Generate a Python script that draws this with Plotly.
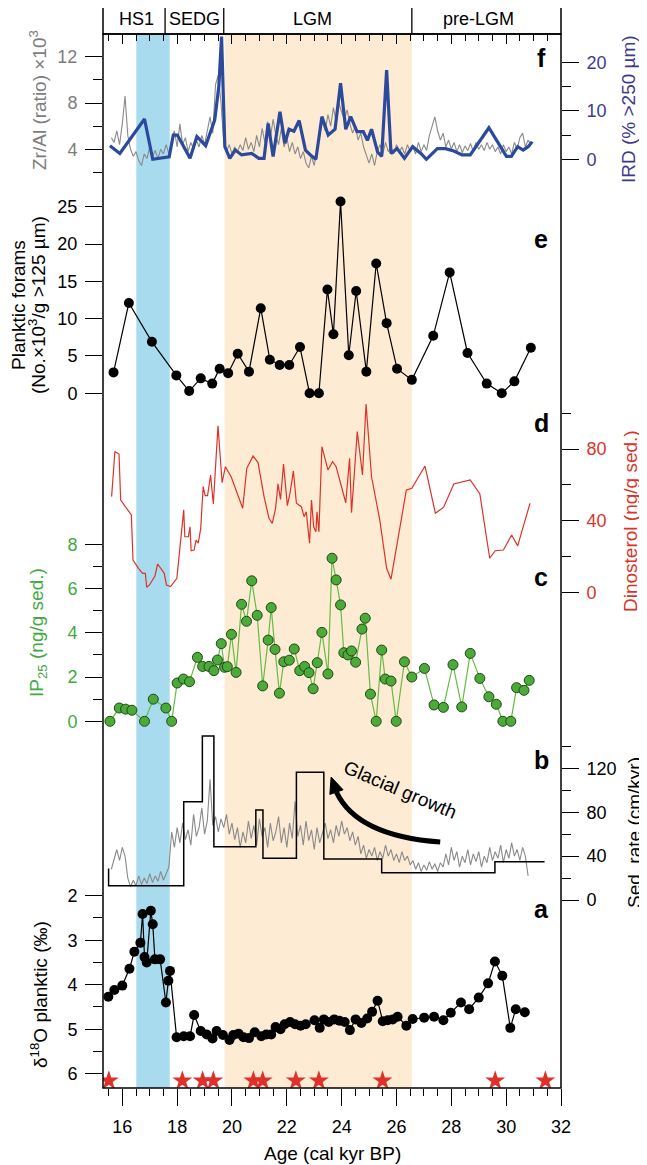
import plotly.graph_objects as go

FONT = "Liberation Sans, Arial, Helvetica, sans-serif"

# ---------------- data ----------------
# panel f : IRD (% > 250 um)
ird_age = [15.55, 15.91, 16.81, 17.11, 17.71, 17.86, 18.01, 18.47, 18.72, 19.04, 19.37, 19.52, 19.62, 19.74, 19.92,
           20.12, 20.35, 20.72, 20.98, 21.17, 21.32, 21.50, 21.75, 21.93, 22.08, 22.26, 22.45, 22.68, 22.86, 23.06,
           23.28, 23.51, 23.76, 23.96, 24.15, 24.33, 24.56, 24.79, 24.94, 25.09, 25.31, 25.46, 25.64, 25.80, 26.02,
           26.29, 26.59, 26.89, 27.09, 27.49, 27.79, 28.09, 28.39, 28.69, 29.37, 29.79, 30.01, 30.19, 30.42, 30.62,
           30.80, 30.95]
ird_val = [2.8, 1.2, 8.3, 0.0, 0.5, 5.0, 5.0, 0.2, 4.7, 2.8, 8.1, 15.0, 25.3, 2.6, 0.2,
           1.9, 0.9, 1.2, 0.2, 0.2, 7.4, 0.6, 9.8, 3.3, 6.2, 5.8, 8.0, 1.9, 0.9, 0.0,
           8.8, 5.0, 6.2, 15.7, 6.2, 8.8, 5.7, 5.7, 3.9, 6.2, 1.5, 0.6, 18.4, 1.2, 2.2,
           0.2, 2.6, 1.2, 0.0, 2.2, 2.2, 1.7, 0.9, 0.9, 6.5, 2.6, 0.6, 0.6, 2.6, 1.9,
           2.6, 3.6]

# high-resolution ages shared by the Zr/Al record (f) and the grey record of panel b
hr_age = [15.6, 15.7, 15.8, 15.9,
          16.0, 16.1, 16.2, 16.3, 16.4, 16.5, 16.6, 16.7, 16.8, 16.9,
          17.0, 17.1, 17.2, 17.3, 17.4, 17.5, 17.6, 17.7, 17.8, 17.9,
          18.0, 18.1, 18.2, 18.3, 18.4, 18.5, 18.6, 18.7, 18.8, 18.9,
          19.0, 19.1, 19.2, 19.3, 19.4, 19.5, 19.6, 19.7, 19.8, 19.9,
          20.0, 20.1, 20.2, 20.3, 20.4, 20.5, 20.6, 20.7, 20.8, 20.9,
          21.0, 21.1, 21.2, 21.3, 21.4, 21.5, 21.6, 21.7, 21.8, 21.9,
          22.0, 22.1, 22.2, 22.3, 22.4, 22.5, 22.6, 22.7, 22.8, 22.9,
          23.0, 23.1, 23.2, 23.3, 23.4, 23.5, 23.6, 23.7, 23.8, 23.9,
          24.0, 24.1, 24.2, 24.3, 24.4, 24.5, 24.6, 24.7, 24.8, 24.9,
          25.0, 25.1, 25.2, 25.3, 25.4, 25.5, 25.6, 25.7, 25.8, 25.9,
          26.0, 26.1, 26.2, 26.3, 26.4, 26.5, 26.6, 26.7, 26.8, 26.9,
          27.0, 27.1, 27.2, 27.3, 27.4, 27.5, 27.6, 27.7, 27.8, 27.9,
          28.0, 28.1, 28.2, 28.3, 28.4, 28.5, 28.6, 28.7, 28.8, 28.9,
          29.0, 29.1, 29.2, 29.3, 29.4, 29.5, 29.6, 29.7, 29.8, 29.9,
          30.0, 30.1, 30.2, 30.3, 30.4, 30.5, 30.6, 30.7, 30.8, 30.9]

zr_al = [5.0, 4.6, 5.6, 4.4,
         6.2, 8.6, 5.2, 4.0, 3.4, 3.8, 3.0, 2.6, 3.6, 3.2,
         4.2, 3.4, 3.9, 3.2, 4.0, 3.6, 4.4, 3.6, 4.8, 5.6,
         4.2, 6.2, 4.4, 5.0, 3.8, 4.6, 4.0, 4.8, 4.2, 5.2,
         4.4, 5.6, 6.8, 5.4, 9.6, 10.4, 8.0, 4.6, 3.8, 4.4,
         3.6, 4.2, 3.8, 4.4, 3.9, 5.0, 4.0, 4.6, 3.8, 5.2,
         4.2, 5.8, 4.6, 6.4, 5.0, 6.6, 5.2, 4.4, 5.8, 4.2,
         5.0, 3.8, 4.6, 3.6, 4.2, 3.2, 3.8, 2.8, 2.4, 3.4,
         2.6, 4.0, 5.2, 6.4, 5.6, 7.0, 6.0, 7.6, 6.4, 8.0,
         7.2, 6.6, 7.4, 6.2, 5.4, 6.0, 4.8, 5.4, 4.2, 3.4,
         2.8, 3.6, 2.6, 3.8, 4.4, 3.6, 4.6, 3.8, 4.2, 3.6,
         4.4, 3.8, 4.2, 3.6, 4.4, 3.8, 4.2, 3.6, 4.6, 3.8,
         4.4, 3.9, 5.2, 6.0, 6.8, 5.6, 4.8, 5.4, 4.2, 4.8,
         4.0, 4.6, 3.8, 4.4, 3.7, 4.3, 3.9, 4.5, 3.8, 4.6,
         4.0, 4.4, 3.9, 4.6, 4.0, 4.4, 3.8, 4.2, 3.6, 4.4,
         3.8, 4.2, 3.6, 4.6, 4.0, 5.0, 5.4, 4.2, 4.8, 4.4]

grey_b = [28, 38, 46, 36,
          48, 40, 20, 12, 18, 13, 22, 14, 20, 15,
          24, 16, 22, 17, 26, 18, 24, 30, 62, 48,
          66, 52, 70, 55, 64, 50, 78, 58, 66, 84,
          60, 72, 110, 68, 76, 62, 74, 66, 78, 60,
          70, 55, 66, 48, 62, 52, 72, 56, 68, 50,
          74, 58, 66, 48, 70, 54, 62, 76, 52, 66,
          48, 70, 56, 90, 58, 68, 50, 72, 54, 64,
          46, 66, 52, 60, 70, 56, 64, 52, 68, 58,
          72, 60, 66, 54, 62, 50, 58, 42, 50, 38,
          46, 40, 48, 36, 44, 38, 50, 40, 46, 36,
          42, 34, 44, 36, 40, 32, 36, 28, 34, 26,
          32, 27, 35, 28, 33, 26, 34, 30, 42, 32,
          48, 36, 44, 30, 40, 34, 46, 32, 42, 35,
          44, 30, 40, 34, 48, 36, 44, 38, 50, 34,
          46, 38, 52, 40, 46, 36, 48, 40, 22, None]

# panel e : planktic forams
foram_age = [15.68, 16.24, 17.08, 17.97, 18.44, 18.86, 19.28, 19.55, 19.86, 20.21, 20.62, 21.05, 21.38, 21.74,
             22.09, 22.48, 22.83, 23.17, 23.48, 23.70, 23.96, 24.26, 24.53, 24.90, 25.26, 25.64, 26.02, 26.56,
             27.34, 27.94, 28.59, 29.29, 29.84, 30.30, 30.90]
foram_val = [2.8, 12.1, 6.9, 2.4, 0.3, 2.0, 1.3, 3.3, 2.7, 5.3, 2.9, 11.4, 4.5, 3.8,
             3.8, 6.2, 0.0, 0.0, 13.9, 7.9, 25.7, 5.1, 13.7, 2.9, 17.4, 9.4, 3.3, 1.8,
             7.7, 16.2, 5.4, 1.3, 0.0, 1.6, 6.1]

# panel d : dinosterol
dino_age = [15.61, 15.73, 15.88, 15.94, 16.33, 16.39, 16.59, 16.74, 16.84, 16.89, 16.99, 17.19, 17.29, 17.53,
            17.61, 17.76, 17.99, 18.24, 18.28, 18.41, 18.47, 18.51, 18.62, 18.69, 18.77, 18.86, 18.95, 19.02,
            19.11, 19.22, 19.32, 19.49, 19.64, 19.76, 19.97, 20.27, 20.39, 20.54, 20.77, 20.95, 21.17, 21.35,
            21.47, 21.59, 21.68, 21.77, 21.88, 22.02, 22.12, 22.24, 22.35, 22.53, 22.63, 22.71, 22.83, 22.90,
            22.98, 23.06, 23.10, 23.17, 23.28, 23.50, 23.67, 23.80, 23.96, 24.15, 24.29, 24.36, 24.57, 24.76,
            24.89, 25.09, 25.39, 25.64, 25.80, 26.36, 26.56, 27.04, 27.42, 27.72, 28.09, 28.69, 29.04, 29.40,
            29.60, 29.90, 30.20, 30.42, 30.87]
dino_val = [53.4, 78.5, 77.2, 51.5, 43.2, 18.0, 13.4, 10.6, 10.6, 2.8, 4.1, 9.1, 15.8, 10.6,
            4.1, 3.2, 7.8, 46.0, 31.0, 31.0, 36.6, 23.2, 23.6, 29.2, 27.4, 35.7, 59.0, 54.0,
            54.0, 65.5, 49.3, 92.9, 61.2, 70.1, 64.5, 51.5, 46.9, 69.2, 76.1, 72.4, 53.4, 41.3,
            38.5, 46.9, 60.5, 51.9, 71.6, 48.4, 55.6, 67.7, 49.7, 47.8, 42.2, 45.0, 27.4, 51.5,
            36.6, 33.8, 45.0, 33.8, 81.3, 68.3, 72.9, 70.1, 60.9, 50.0, 74.8, 44.4, 89.7, 65.5,
            105.1, 64.5, 40.4, 13.4, 7.3, 57.1, 58.1, 70.5, 44.1, 47.5, 60.5, 62.7, 54.9, 19.0,
            23.2, 23.6, 32.0, 25.9, 49.7]

# panel c : IP25
ip_age = [15.55, 15.89, 16.12, 16.35, 16.81, 17.13, 17.59, 17.80, 18.00, 18.23, 18.45, 18.74, 18.93, 19.16,
          19.34, 19.47, 19.61, 19.73, 19.83, 19.98, 20.15, 20.35, 20.53, 20.72, 20.92, 21.12, 21.32, 21.43,
          21.57, 21.73, 21.89, 22.09, 22.27, 22.47, 22.65, 22.81, 22.96, 23.11, 23.28, 23.50, 23.65, 23.80,
          23.96, 24.08, 24.23, 24.36, 24.51, 24.74, 24.86, 25.05, 25.26, 25.46, 25.59, 25.80, 25.99, 26.29,
          26.56, 27.02, 27.37, 27.71, 28.06, 28.38, 28.69, 29.04, 29.37, 29.64, 29.88, 30.17, 30.38, 30.65,
          30.84]
ip_val = [0.0, 0.6, 0.55, 0.5, 0.0, 1.0, 0.6, 0.0, 1.73, 1.91, 1.79, 2.89, 2.48, 2.48,
          2.29, 2.77, 3.51, 2.44, 2.47, 3.93, 2.21, 5.29, 4.52, 6.35, 4.79, 1.6, 3.67, 5.14,
          3.25, 1.27, 2.69, 2.76, 3.27, 2.29, 2.48, 2.2, 1.47, 2.65, 4.02, 2.14, 7.37, 6.39,
          5.26, 3.1, 3.0, 3.18, 2.67, 4.17, 4.66, 1.23, 0.0, 3.22, 1.91, 1.82, 0.0, 2.69,
          2.0, 2.39, 0.74, 0.63, 2.56, 0.65, 3.07, 1.94, 1.11, 0.77, 0.0, 0.0, 1.52, 1.4,
          1.85]

# panel b : sedimentation rate (step)
sr_age = [15.50, 15.50, 18.24, 18.92, 19.34, 20.87, 21.13, 22.35, 23.35, 25.46, 29.59, 31.40]
sr_val = [28.8, 13.0, 89.6, 149.4, 48.6, 82.0, 38.0, 116.3, 37.4, 24.9, 34.9, 34.9]

# panel a : d18O planktic
d18_age = [15.49, 15.71, 16.00, 16.26, 16.44, 16.66, 16.74, 16.81, 16.89, 17.04, 17.11, 17.19, 17.38, 17.59,
           17.68, 17.74, 17.98, 18.24, 18.47, 18.62, 18.86, 19.08, 19.29, 19.44, 19.67, 19.91, 20.05, 20.24,
           20.42, 20.62, 20.83, 21.07, 21.25, 21.43, 21.59, 21.77, 21.92, 22.12, 22.30, 22.50, 22.69, 23.01,
           23.20, 23.35, 23.53, 23.73, 23.92, 24.11, 24.30, 24.51, 24.72, 24.93, 25.11, 25.31, 25.50, 25.68,
           25.86, 26.04, 26.36, 26.59, 27.01, 27.37, 27.71, 27.98, 28.35, 28.65, 29.00, 29.34, 29.59, 29.86,
           30.15, 30.35, 30.68]
d18_val = [4.27, 4.12, 4.02, 3.64, 3.26, 3.06, 2.41, 3.38, 3.50, 2.34, 2.64, 3.43, 3.43, 4.40,
           3.91, 3.69, 5.18, 5.16, 5.16, 4.68, 5.04, 5.12, 5.21, 5.04, 5.13, 5.24, 5.13, 5.10,
           5.18, 5.20, 5.07, 5.16, 5.12, 5.12, 4.95, 5.00, 4.89, 4.84, 4.89, 4.92, 4.89, 4.80,
           4.97, 4.78, 4.84, 4.78, 4.81, 4.84, 5.02, 4.78, 4.86, 4.76, 4.61, 4.36, 4.82, 4.80,
           4.78, 4.72, 4.92, 4.77, 4.74, 4.72, 4.80, 4.63, 4.40, 4.55, 4.29, 3.97, 3.48, 3.80,
           4.97, 4.55, 4.62]

# radiocarbon dates (stars)
star_age = [15.51, 18.19, 18.93, 19.32, 20.78, 21.12, 22.33, 23.17, 25.49, 29.60, 31.43]
star_val = [6.16, 6.16, 6.16, 6.16, 6.16, 6.16, 6.16, 6.16, 6.16, 6.16, 6.16]

# periods
periods = ["HS1", "SEDG", "LGM", "pre-LGM"]
period_bounds = [17.56, 19.70, 26.56]
period_label_x = [16.51, 18.62, 22.93, 28.99]
hs1_band = [16.51, 17.73]
lgm_band = [19.73, 26.56]

x_ticks = [16, 18, 20, 22, 24, 26, 28, 30, 32]

# ---------------- layout geometry (page pixels) ----------------
PAGE_W, PAGE_H = 647, 1165
OFF = 8                      # default body margin of the html page
PL, PR = 103, 561            # plot-area left / right (page px)
TOP, BOT = 34, 1088          # plot-area top / bottom (page px)
W, H = PAGE_W - OFF, PAGE_H - OFF
ML, MT = PL - OFF, TOP - OFF
MR = PAGE_W - PR
MB = PAGE_H - BOT
PW = PR - PL
X_RANGE = [15.296, 32.0]


def yrange(v1, p1, v2, p2):
    s = (v2 - v1) / (p2 - p1)
    return [v1 + (BOT - p1) * s, v1 + (TOP - p1) * s]


def yp(p):
    return (BOT - p) / (BOT - TOP)


def xp(p):
    return (p - PL) / PW


BLACK = "black"
GREY_TXT = "#7d7d7d"
NAVY_TXT = "#3d3a8e"
RED = "#dc3329"
GREEN_TXT = "#3faa3f"


def yax(side, rng, major, minor, color, overlay=True):
    d = dict(range=rng, side=side, anchor="x", showgrid=False, zeroline=False, showline=False,
             tickmode="array", tickvals=major, ticks="outside", ticklen=17, tickwidth=1.3,
             tickcolor=BLACK, tickfont=dict(size=18, color=color, family=FONT),
             ticklabelstandoff=4, automargin=False, fixedrange=True,
             minor=dict(tickmode="array", tickvals=minor, ticks="outside", ticklen=9,
                        tickwidth=1.3, tickcolor=BLACK, showgrid=False))
    if overlay:
        d["overlaying"] = "y"
    return d


fig = go.Figure()

# panel a (base axis)
fig.add_trace(go.Scatter(x=d18_age, y=d18_val, mode="lines+markers", yaxis="y",
                         line=dict(color=BLACK, width=1.2), marker=dict(size=10, color=BLACK)))
fig.add_trace(go.Scatter(x=star_age, y=star_val, mode="markers", yaxis="y",
                         marker=dict(symbol="star", size=15, color="#e0302a", line=dict(width=0))))
# panel f
fig.add_trace(go.Scatter(x=hr_age, y=zr_al, mode="lines", yaxis="y2",
                         line=dict(color="#8a8a8a", width=1.1)))
fig.add_trace(go.Scatter(x=ird_age, y=ird_val, mode="lines", yaxis="y3",
                         line=dict(color="#2c4a9c", width=3.2)))
# panel e
fig.add_trace(go.Scatter(x=foram_age, y=foram_val, mode="lines+markers", yaxis="y4",
                         line=dict(color=BLACK, width=1.2), marker=dict(size=10, color=BLACK)))
# panel d
fig.add_trace(go.Scatter(x=dino_age, y=dino_val, mode="lines", yaxis="y5",
                         line=dict(color=RED, width=1.2)))
# panel c
fig.add_trace(go.Scatter(x=ip_age, y=ip_val, mode="lines+markers", yaxis="y6",
                         line=dict(color="#66bb44", width=1.2),
                         marker=dict(size=10, color="#4caa3a", line=dict(color="#1d4a14", width=1))))
# panel b
fig.add_trace(go.Scatter(x=hr_age, y=grey_b, mode="lines", yaxis="y7",
                         line=dict(color="#8a8a8a", width=1.1)))
fig.add_trace(go.Scatter(x=sr_age, y=sr_val, mode="lines", yaxis="y7", line_shape="hv",
                         line=dict(color=BLACK, width=1.5)))
# dummy trace for top tick axis
fig.add_trace(go.Scatter(x=[20], y=[None], xaxis="x2", yaxis="y", mode="markers", hoverinfo="skip"))

shapes = [
    dict(type="rect", xref="x", yref="paper", x0=hs1_band[0], x1=hs1_band[1], y0=0, y1=1,
         fillcolor="#a9dbef", line=dict(width=0), layer="below"),
    dict(type="rect", xref="x", yref="paper", x0=lgm_band[0], x1=lgm_band[1], y0=0, y1=1,
         fillcolor="#fdebd4", line=dict(width=0), layer="below"),
    dict(type="rect", xref="paper", yref="paper", x0=0, x1=1, y0=0, y1=1,
         line=dict(color=BLACK, width=1.5), fillcolor="rgba(0,0,0,0)", layer="above"),
    dict(type="rect", xref="paper", yref="paper", x0=0, x1=1, y0=1, y1=yp(1.5),
         line=dict(color=BLACK, width=1.5), fillcolor="rgba(0,0,0,0)", layer="above"),
    # glacial growth arrow
    dict(type="path", xref="x", yref="y7", path="M 27.595,52.85 Q 24.566,58.31 23.81,98.31",
         line=dict(color=BLACK, width=5), layer="above"),
    dict(type="path", xref="x", yref="y7", path="M 23.617,112.07 L 24.051,100.41 L 23.569,96.22 Z",
         line=dict(color=BLACK, width=1), fillcolor=BLACK, layer="above"),
]
for b in period_bounds:
    shapes.append(dict(type="line", xref="x", yref="paper", x0=b, x1=b, y0=1, y1=yp(1.5),
                       line=dict(color=BLACK, width=1.3)))

annotations = []
for lab, lx in zip(periods, period_label_x):
    annotations.append(dict(text=lab, x=lx, y=yp(18.5), xref="x", yref="paper", showarrow=False,
                            xanchor="center", yanchor="middle", font=dict(size=18, color=BLACK, family=FONT)))

# panel letters
for lab, ypx in [("f", 58), ("e", 239), ("d", 423), ("c", 577), ("b", 760), ("a", 909)]:
    annotations.append(dict(text="<b>%s</b>" % lab, x=31.28, y=yp(ypx), xref="x", yref="paper",
                            showarrow=False, xanchor="center", yanchor="middle",
                            font=dict(size=25, color=BLACK, family=FONT)))

# axis titles
titles = [
    ("Zr/Al (ratio) ×10<sup>3</sup>", 38, 100, GREY_TXT),
    ("Planktic forams", 19, 305, BLACK),
    ("(No.×10<sup>3</sup>/g >125 µm)", 37, 305, BLACK),
    ("IP<sub>25</sub> (ng/g sed.)", 38, 633, GREEN_TXT),
    ("δ<sup>18</sup>O planktic (‰)", 39, 995, BLACK),
    ("IRD (% >250 µm)", 628, 109, NAVY_TXT),
    ("Dinosterol (ng/g sed.)", 630, 521, RED),
    ("Sed. rate (cm/kyr)", 634, 833, BLACK),
]
for t, xpx, ypx, col in titles:
    annotations.append(dict(text=t, x=xp(xpx), y=yp(ypx), xref="paper", yref="paper", showarrow=False,
                            textangle=-90, xanchor="center", yanchor="middle",
                            font=dict(size=19, color=col, family=FONT)))
annotations.append(dict(text="Age (cal kyr BP)", x=0.5, y=yp(1153), xref="paper", yref="paper",
                        showarrow=False, xanchor="center", yanchor="middle",
                        font=dict(size=19, color=BLACK, family=FONT)))
annotations.append(dict(text="Glacial growth", x=26.12, y=100.5, xref="x", yref="y7", showarrow=False,
                        textangle=23, xanchor="center", yanchor="middle",
                        font=dict(size=19, color=BLACK, family=FONT)))

fig.update_layout(
    width=W, height=H, margin=dict(l=ML, r=MR, t=MT, b=MB, pad=0),
    template="none", paper_bgcolor="white", plot_bgcolor="rgba(0,0,0,0)",
    showlegend=False, hovermode=False, font=dict(family=FONT, size=18, color=BLACK),
    xaxis=dict(range=X_RANGE, showgrid=False, zeroline=False, showline=False, anchor="y",
               tickmode="array", tickvals=x_ticks, ticks="outside", ticklen=17, tickwidth=1.3,
               tickcolor=BLACK, tickfont=dict(size=18, color=BLACK, family=FONT),
               ticklabelstandoff=5, automargin=False, fixedrange=True,
               minor=dict(tickmode="linear", tick0=0, dtick=0.5, ticks="outside", ticklen=7,
                          tickwidth=1.3, tickcolor=BLACK, showgrid=False)),
    xaxis2=dict(range=X_RANGE, overlaying="x", side="top", anchor="y", showgrid=False, zeroline=False,
                showline=False, tickmode="array", tickvals=x_ticks, ticks="inside", ticklen=10,
                tickwidth=1.3, tickcolor=BLACK, showticklabels=False, automargin=False, fixedrange=True,
                minor=dict(tickmode="linear", tick0=0, dtick=0.5, ticks="inside", ticklen=7,
                           tickwidth=1.3, tickcolor=BLACK, showgrid=False)),
    yaxis=yax("left", yrange(2, 895.7, 6, 1073.7), [2, 3, 4, 5, 6], [2.5, 3.5, 4.5, 5.5], BLACK, overlay=False),
    yaxis2=yax("left", yrange(12, 56.7, 4, 149.3), [4, 8, 12], [2, 6, 10], GREY_TXT),
    yaxis3=yax("right", yrange(20, 62.3, 0, 159.3), [0, 10, 20], [5, 15], NAVY_TXT),
    yaxis4=yax("left", yrange(25, 206.7, 0, 393.3), [0, 5, 10, 15, 20, 25], [], BLACK),
    yaxis5=yax("right", yrange(80, 449.0, 0, 592.3), [0, 40, 80], [20, 60, 100], RED),
    yaxis6=yax("left", yrange(8, 544.3, 0, 721.3), [0, 2, 4, 6, 8], [1, 3, 5, 7], GREEN_TXT),
    yaxis7=yax("right", yrange(120, 768.3, 0, 900.0), [0, 40, 80, 120], [20, 60, 100, 140], BLACK),
    shapes=shapes, annotations=annotations,
)

fig.write_html("out.html")
